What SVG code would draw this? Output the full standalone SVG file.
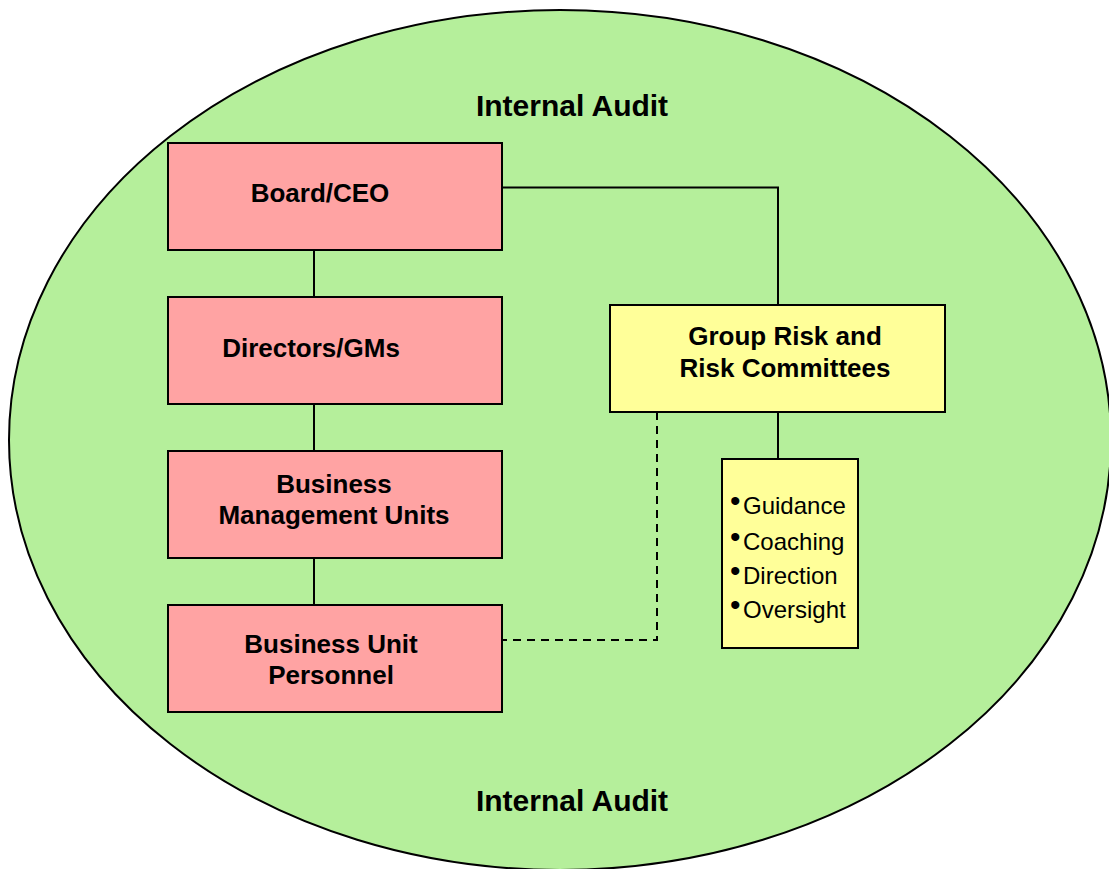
<svg xmlns="http://www.w3.org/2000/svg" width="1109" height="869" viewBox="0 0 1109 869">
<style>
.box{stroke:#000;stroke-width:2}
.pink{fill:#FFA3A3}
.yellow{fill:#FFFF99}
.lbl{font-family:"Liberation Sans",Arial,sans-serif;font-weight:bold;font-size:26px;fill:#000;text-anchor:middle}
.title{font-family:"Liberation Sans",Arial,sans-serif;font-weight:bold;font-size:30px;fill:#000;text-anchor:middle}
.item{font-family:"Liberation Sans",Arial,sans-serif;font-size:24px;fill:#000}
.bullet{font-size:30px}
.conn{fill:none;stroke:#000;stroke-width:2}
.dash{stroke-dasharray:8,6}
</style>
<rect width="1109" height="869" fill="#fff"/>
<g id="internal-audit">
<ellipse cx="560" cy="440" rx="551" ry="430" fill="#B5EF9B" stroke="#000" stroke-width="2"/>
<text class="title" x="572" y="116">Internal Audit</text>
<text class="title" x="572" y="811">Internal Audit</text>
</g>
<g id="connectors">
<path class="conn" d="M502,187.5 H778 V305"/>
<path class="conn" d="M314,250 V297"/>
<path class="conn" d="M314,404 V451"/>
<path class="conn" d="M314,558 V605"/>
<path class="conn" d="M778,412 V459"/>
<path class="conn dash" d="M657,412 V640 H502"/>
</g>
<g id="board-ceo">
<rect class="box pink" x="168" y="143" width="334" height="107"/>
<text class="lbl" x="320" y="202">Board/CEO</text>
</g>
<g id="directors-gms">
<rect class="box pink" x="168" y="297" width="334" height="107"/>
<text class="lbl" x="311" y="357">Directors/GMs</text>
</g>
<g id="business-management-units">
<rect class="box pink" x="168" y="451" width="334" height="107"/>
<text class="lbl" x="334" y="493">Business</text>
<text class="lbl" x="334" y="524">Management Units</text>
</g>
<g id="business-unit-personnel">
<rect class="box pink" x="168" y="605" width="334" height="107"/>
<text class="lbl" x="331" y="653">Business Unit</text>
<text class="lbl" x="331" y="684">Personnel</text>
</g>
<g id="group-risk">
<rect class="box yellow" x="610" y="305" width="335" height="107"/>
<text class="lbl" x="785" y="345">Group Risk and</text>
<text class="lbl" x="785" y="377">Risk Committees</text>
</g>
<g id="activities">
<rect class="box yellow" x="722" y="459" width="136" height="189"/>
<text class="item" x="730" y="511"><tspan class="bullet">•</tspan><tspan x="743" y="514">Guidance</tspan></text>
<text class="item" x="730" y="547"><tspan class="bullet">•</tspan><tspan x="743" y="550">Coaching</tspan></text>
<text class="item" x="730" y="581"><tspan class="bullet">•</tspan><tspan x="743" y="584">Direction</tspan></text>
<text class="item" x="730" y="615"><tspan class="bullet">•</tspan><tspan x="743" y="618">Oversight</tspan></text>
</g>
</svg>
